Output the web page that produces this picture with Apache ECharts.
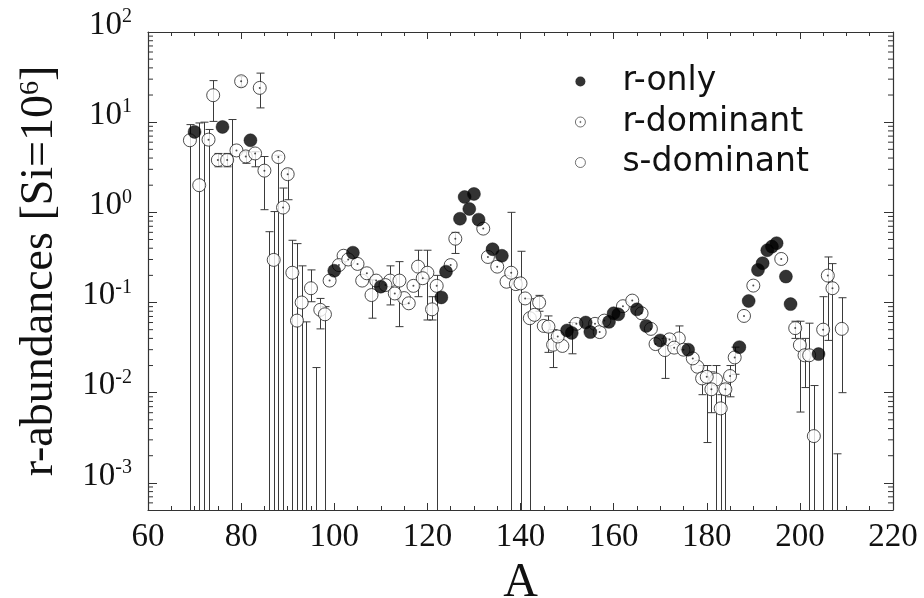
<!DOCTYPE html>
<html>
<head>
<meta charset="utf-8">
<script src="https://cdn.jsdelivr.net/npm/echarts@6/dist/echarts.min.js"></script>
<style>
html,body{margin:0;padding:0;background:#fff;}
#chart{width:924px;height:598px;}
</style>
</head>
<body>
<div id="chart"></div>
<script>
// ---------- data (mass number A, r-abundance [Si=1e6]) ----------
const rOnlyA = [70,76,82,100,104,110,123,124,127,128,129,130,131,134,136,150,151,154,155,159,160,161,165,167,170,176,187,189,191,192,193,194,195,197,198,204];
const rOnlyY = [7.8,8.85,6.3,0.225,0.357,0.15,0.114,0.22,0.85,1.48,1.09,1.6,0.83,0.39,0.33,0.049,0.046,0.06,0.047,0.061,0.076,0.074,0.084,0.055,0.038,0.030,0.032,0.104,0.23,0.273,0.38,0.417,0.455,0.194,0.096,0.0268];

const rDomA = [73,75,77,79,80,81,83,84,85,88,89,90,99,101,103,105,107,109,111,113,116,117,119,122,125,126,132,133,135,138,141,148,152,156,157,158,162,164,166,168,169,172,173,175,177,180,181,184,185,186,188,190,196,199,205,206,207];
const rDomY = [6.4,3.8,3.8,4.86,28.4,4.17,4.5,24,2.9,4.1,1.13,2.65,0.175,0.26,0.30,0.268,0.211,0.175,0.156,0.126,0.098,0.153,0.186,0.153,0.26,0.51,0.66,0.32,0.25,0.214,0.111,0.042,0.058,0.058,0.047,0.063,0.091,0.105,0.076,0.051,0.0346,0.039,0.0316,0.030,0.024,0.015,0.0109,0.0109,0.0153,0.0246,0.071,0.154,0.304,0.052,0.050,0.199,0.144];

const sDomA = [69,71,74,87,91,92,93,95,97,98,102,106,108,112,114,115,118,120,121,137,139,140,142,143,144,145,146,147,149,171,174,178,179,182,183,200,201,202,203,209];
const sDomY = [6.3,2.0,19.9,0.297,0.214,0.063,0.1,0.144,0.083,0.074,0.33,0.175,0.121,0.175,0.175,0.112,0.25,0.214,0.084,0.17,0.16,0.163,0.067,0.073,0.10,0.055,0.054,0.034,0.033,0.0297,0.040,0.0194,0.0144,0.014,0.0067,0.0337,0.026,0.026,0.0033,0.051];

// error bars: lower limit B means the bar runs off the bottom of the plot
const B = 1e-4;
const errA  = [69,71,72,73,74,75,77,78,80,81,83,84,85,86,87,88,89,90,91,92,93,94,95,96,97,98,108,112,114,118,120,121,122,126,138,140,142,144,146,147,151,171,174,179,180,181,182,183,184,185,186,199,200,201,202,203,205,206,207,208,209];
const errLo = [B,B,B,B,10.2,3.2,3.2,B,25,3.5,3.2,14.4,1.07,B,B,B,B,1.38,B,B,B,B,0.102,B,0.051,B,0.067,0.094,0.054,0.116,0.064,0.064,B,0.35,B,B,B,0.08,0.028,0.019,0.027,0.0144,0.03,0.0095,0.0028,0.006,B,B,B,0.009,0.016,0.04,0.0061,0.0114,B,B,B,0.038,B,B,0.01];
const errHi = [9.4,9.8,10,8.3,28.9,4.5,4.5,10.7,32,4.7,4.7,35,4.16,0.61,1.02,4.3,1.86,3.02,0.49,0.45,0.255,0.061,0.23,0.019,0.111,0.09,0.178,0.255,0.284,0.38,0.38,0.116,0.2,0.6,1.0,0.37,0.11,0.12,0.071,0.05,0.06,0.04,0.055,0.02,0.02,0.017,0.02,0.0095,0.0125,0.02,0.032,0.062,0.062,0.04,0.059,0.012,0.116,0.32,0.27,0.0021,0.113];

// axis ticks
const xMin = 60, xMax = 220, xStep = 20;
const yMin = 5e-4, yMax = 100;
const yMinorTicks = [6e-4,7e-4,8e-4,9e-4,
  2e-3,3e-3,4e-3,5e-3,6e-3,7e-3,8e-3,9e-3,
  0.02,0.03,0.04,0.05,0.06,0.07,0.08,0.09,
  0.2,0.3,0.4,0.5,0.6,0.7,0.8,0.9,
  2,3,4,5,6,7,8,9,
  20,30,40,50,60,70,80,90];

const legendNames = ['r-only','r-dominant','s-dominant'];

// ---------- chart ----------
const zip = (a, b) => a.map((v, i) => [v, b[i]]);
const serif = 'Liberation Serif, Times New Roman, serif';
const ink = '#111';

const chart = echarts.init(document.getElementById('chart'), null, {renderer: 'canvas'});

const dotPath = 'path://M0,-10A10,10 0 1,1 0,10A10,10 0 1,1 0,-10ZM0,-1.2A1.2,1.2 0 1,1 0,1.2A1.2,1.2 0 1,1 0,-1.2Z';

const option = {
  backgroundColor: '#fff',
  animation: false,
  grid: {left: 148, right: 31, top: 32, bottom: 88, containLabel: false, outerBoundsMode: 'none'},
  legend: {
    orient: 'vertical', left: 575, top: 65, padding: 0, itemGap: 7.5,
    itemWidth: 10, itemHeight: 10,
    data: [
      {name: legendNames[0], icon: 'circle', itemStyle: {color: '#000', borderWidth: 0}},
      {name: legendNames[1], icon: dotPath, itemStyle: {color: '#fff', borderColor: '#222', borderWidth: 0.8}},
      {name: legendNames[2], icon: 'circle', itemStyle: {color: '#fff', borderColor: '#222', borderWidth: 0.8}}
    ],
    formatter: n => '{t|' + n + '}',
    textStyle: {
      rich: {t: {fontFamily: 'DejaVu Sans, sans-serif', fontSize: 33, color: ink, lineHeight: 40, padding: [0, 0, 0, 32]}}
    }
  },
  xAxis: [{
    type: 'value', min: xMin, max: xMax, interval: xStep, position: 'bottom',
    name: 'A', nameLocation: 'middle', nameGap: 37,
    nameTextStyle: {fontFamily: serif, fontSize: 48, color: ink},
    axisLine: {show: true, lineStyle: {color: '#333', width: 1.2}},
    axisTick: {show: true, inside: true, length: 7, lineStyle: {color: '#333'}},
    minorTick: {show: true, splitNumber: 4, length: 4, lineStyle: {color: '#333'}},
    axisLabel: {fontFamily: serif, fontSize: 33, color: ink, margin: 11},
    splitLine: {show: false}, minorSplitLine: {show: false}
  }, {
    type: 'value', min: xMin, max: xMax, interval: xStep, position: 'top',
    axisLine: {show: true, lineStyle: {color: '#333', width: 1.2}},
    axisTick: {show: true, inside: true, length: 7, lineStyle: {color: '#333'}},
    minorTick: {show: true, splitNumber: 4, length: 4, lineStyle: {color: '#333'}},
    axisLabel: {show: false}, splitLine: {show: false}
  }],
  yAxis: [{
    type: 'log', logBase: 10, min: yMin, max: yMax, position: 'left',
    name: 'r-abundances [Si=10{s|6}]', nameLocation: 'middle', nameGap: 85,
    nameTextStyle: {fontFamily: serif, fontSize: 46, color: ink,
      rich: {s: {fontFamily: serif, fontSize: 28, color: ink, verticalAlign: 'top', lineHeight: 28}}},
    axisLine: {show: true, lineStyle: {color: '#333', width: 1.2}},
    axisTick: {show: true, inside: true, length: 9, lineStyle: {color: '#333'}},
    axisLabel: {
      margin: 16, padding: [0, 0, 14, 0],
      formatter: v => {
        const e = Math.log10(v), r = Math.round(e);
        if (Math.abs(e - r) > 1e-6) return '';
        return '{b|10}{s|' + r + '}';
      },
      rich: {
        b: {fontFamily: serif, fontSize: 33, color: ink, lineHeight: 36},
        s: {fontFamily: serif, fontSize: 20, color: ink, lineHeight: 20, verticalAlign: 'top'}
      }
    },
    splitLine: {show: false}
  }, {
    type: 'log', logBase: 10, min: yMin, max: yMax, position: 'right',
    axisLine: {show: true, lineStyle: {color: '#333', width: 1.2}},
    axisTick: {show: true, inside: true, length: 9, lineStyle: {color: '#333'}},
    axisLabel: {show: false}, splitLine: {show: false}
  }],
  series: [
    {
      name: 'minor-ticks', type: 'custom', silent: true, z: 1,
      xAxisIndex: 0, yAxisIndex: 0,
      data: yMinorTicks.map(v => [xMin, v]),
      renderItem: (params, api) => {
        const p = api.coord([api.value(0), api.value(1)]);
        const cs = params.coordSys;
        const st = {stroke: '#333', lineWidth: 1};
        return {type: 'group', children: [
          {type: 'line', shape: {x1: cs.x, y1: p[1], x2: cs.x + 5, y2: p[1]}, style: st},
          {type: 'line', shape: {x1: cs.x + cs.width - 5, y1: p[1], x2: cs.x + cs.width, y2: p[1]}, style: st}
        ]};
      }
    },
    {
      name: 'error-bars', type: 'custom', silent: true, z: 2,
      xAxisIndex: 0, yAxisIndex: 0,
      data: errA.map((a, i) => [a, errLo[i], errHi[i]]),
      encode: {x: 0, y: [1, 2]},
      renderItem: (params, api) => {
        const a = api.value(0);
        const pHi = api.coord([a, api.value(2)]);
        const pLo = api.coord([a, api.value(1)]);
        const cs = params.coordSys;
        const bottom = cs.y + cs.height;
        let yLo = pLo[1], loCap = true;
        if (yLo >= bottom) { yLo = bottom; loCap = false; }
        const st = {stroke: '#3a3a3a', lineWidth: 1};
        const x = Math.round(pHi[0]) + 0.5;
        const ch = [
          {type: 'line', shape: {x1: x, y1: pHi[1], x2: x, y2: yLo}, style: st},
          {type: 'line', shape: {x1: x - 4, y1: pHi[1], x2: x + 4, y2: pHi[1]}, style: st}
        ];
        if (loCap) ch.push({type: 'line', shape: {x1: x - 4, y1: yLo, x2: x + 4, y2: yLo}, style: st});
        return {type: 'group', children: ch};
      }
    },
    {
      name: legendNames[2], type: 'scatter', z: 3,
      data: zip(sDomA, sDomY), symbol: 'circle', symbolSize: 13,
      itemStyle: {color: '#fff', borderColor: '#222', borderWidth: 1}
    },
    {
      name: legendNames[1], type: 'scatter', z: 4,
      data: zip(rDomA, rDomY), symbol: 'circle', symbolSize: 13,
      itemStyle: {color: '#fff', borderColor: '#222', borderWidth: 1}
    },
    {
      name: 'r-dominant-centre', type: 'scatter', z: 5, silent: true,
      data: zip(rDomA, rDomY), symbol: 'circle', symbolSize: 2,
      itemStyle: {color: '#222'}
    },
    {
      name: legendNames[0], type: 'scatter', z: 6,
      data: zip(rOnlyA, rOnlyY), symbol: 'circle', symbolSize: 13,
      itemStyle: {color: '#000', borderColor: '#000', borderWidth: 0.5}
    }
  ]
};
chart.setOption(option);
</script>
</body>
</html>
